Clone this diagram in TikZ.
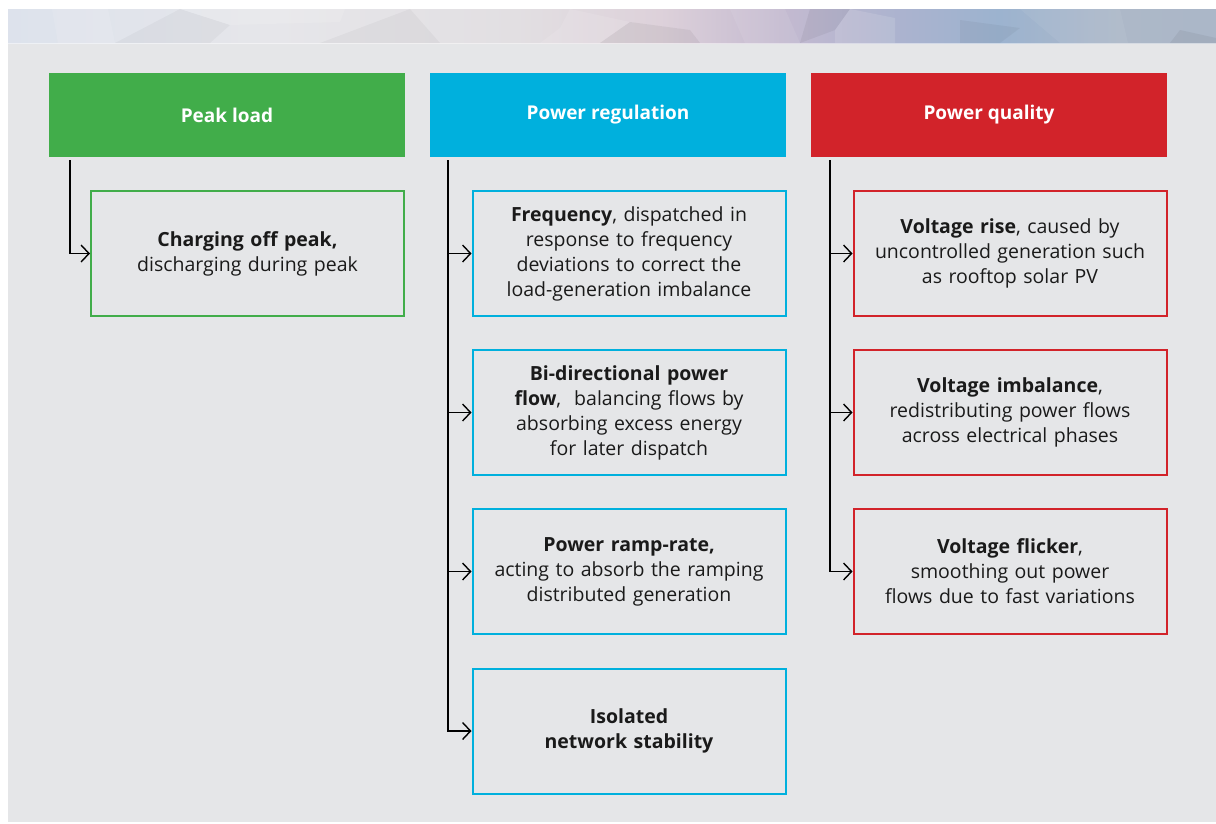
\documentclass[tikz,border=0pt]{standalone}
\usepackage{fontspec}
\setmainfont{Open Sans}
\usetikzlibrary{arrows.meta}
\definecolor{bgg}{HTML}{E5E6E8}
\definecolor{cgreen}{HTML}{41AD4A}
\definecolor{cblue}{HTML}{00B0DD}
\definecolor{cred}{HTML}{D2232A}
\definecolor{txt}{HTML}{1A1A1A}
\definecolor{b1}{HTML}{BCCDE3}
\definecolor{b2}{HTML}{C8D4E6}
\definecolor{b3}{HTML}{DCE2EC}
\definecolor{b4}{HTML}{E6E6EA}
\definecolor{b5}{HTML}{E2DFE2}
\definecolor{b6}{HTML}{DDD1DA}
\definecolor{b7}{HTML}{C4BAD0}
\definecolor{b8}{HTML}{ABB3CF}
\definecolor{b9}{HTML}{9CB3CF}
\definecolor{b10}{HTML}{ADB8C8}
\definecolor{b11}{HTML}{A9B6C8}
\definecolor{b12}{HTML}{8FA3B8}
\definecolor{b13}{HTML}{8797AD}
\pgfdeclarehorizontalshading{bandshade}{100bp}{color(0bp)=(b1); color(12bp)=(b2); color(24bp)=(b3); color(36bp)=(b4); color(46bp)=(b5); color(52bp)=(b6); color(57bp)=(b7); color(62bp)=(b8); color(66bp)=(b9); color(71bp)=(b10); color(78bp)=(b11); color(86bp)=(b12); color(100bp)=(b13)}
\tikzset{
  hdr/.style={fill=#1, minimum width=356pt, minimum height=84pt, inner sep=0pt,
    text=white, font=\fontsize{19}{22}\selectfont\bfseries},
  itembox/.style={draw=#1, line width=2pt, minimum width=313pt, minimum height=125pt,
    text width=308pt, align=center, inner sep=0pt, text=txt,
    font=\fontsize{19.5}{25}\selectfont},
  conn/.style={draw=black, line width=1.4pt,
    -{Straight Barb[length=8pt,width=17pt,line width=1.4pt]}}
}
\begin{document}
\begin{tikzpicture}[x=1pt,y=-1pt]
\useasboundingbox (0,0) rectangle (1216,823);
\fill[white] (0,0) rectangle (1216,823);
\fill[bgg] (8,9) rectangle (1216,822);
% top mosaic band
\shade[shading=bandshade] (8,9) rectangle (1216,43);
\begin{scope}
\clip (8,9) rectangle (1216,43);
\fill[white,opacity=0.10] (52,9) -- (108,9) -- (115,43) -- (58,43) -- cycle;
\fill[black,opacity=0.03] (180,9) -- (230,25) -- (210,43) -- (115,43) -- cycle;
\fill[white,opacity=0.12] (180,9) -- (345,9) -- (340,22) -- (230,25) -- cycle;
\fill[black,opacity=0.03] (410,9) -- (440,43) -- (320,43) -- cycle;
\fill[white,opacity=0.10] (570,9) -- (630,22) -- (600,43) -- (540,43) -- (560,28) -- cycle;
\fill[black,opacity=0.05] (630,22) -- (690,30) -- (700,43) -- (600,43) -- cycle;
\fill[white,opacity=0.08] (730,9) -- (785,9) -- (800,43) -- (745,43) -- cycle;
\fill[black,opacity=0.05] (810,9) -- (850,9) -- (835,30) -- (800,43) -- cycle;
\fill[white,opacity=0.12] (850,9) -- (895,18) -- (895,43) -- (835,43) -- (835,30) -- cycle;
\fill[black,opacity=0.04] (960,20) -- (1020,28) -- (1000,43) -- (960,43) -- cycle;
\fill[white,opacity=0.06] (1020,9) -- (1120,9) -- (1128,43) -- (1060,43) -- cycle;
\fill[black,opacity=0.05] (1180,30) -- (1216,38) -- (1216,43) -- (1170,43) -- cycle;
\end{scope}
\draw[white,opacity=0.5,line width=0.8pt] (8,43) -- (1216,43);

% headers
\node[hdr=cgreen] (hg) at (227,115) {Peak load};
\node[hdr=cblue]  (hb) at (608,115) {Power regulation};
\node[hdr=cred]   (hr) at (989,115) {Power quality};

% green column
\node[itembox=cgreen] (g1) at (247.5,253.5) {\textbf{Charging off peak,}\\discharging during peak};

% blue column
\node[itembox=cblue] (p1) at (629,253.5) {\textbf{Frequency}, dispatched in\\response to frequency\\deviations to correct the\\load-generation imbalance};
\node[itembox=cblue] (p2) at (629,412.5) {\textbf{Bi-directional power}\\\textbf{flow},\ \ balancing flows by\\absorbing excess energy\\for later dispatch};
\node[itembox=cblue] (p3) at (629,571.5) {\textbf{Power ramp-rate,}\\acting to absorb the ramping\\distributed generation};
\node[itembox=cblue] (p4) at (629,731) {\textbf{Isolated}\\\textbf{network stability}};

% red column
\node[itembox=cred] (q1) at (1010,253.5) {\textbf{Voltage rise}, caused by\\uncontrolled generation such\\as rooftop solar PV};
\node[itembox=cred] (q2) at (1010,412.5) {\textbf{Voltage imbalance},\\redistributing power flows\\across electrical phases};
\node[itembox=cred] (q3) at (1010,571.5) {\textbf{Voltage flicker},\\smoothing out power\\flows due to fast variations};

% connectors
\draw[conn] ([xshift=21pt,yshift=-3pt]hg.south west) |- (g1.west);
\foreach \b in {p1,p2,p3,p4}{
  \draw[conn] ([xshift=18pt,yshift=-3pt]hb.south west) |- (\b.west);
}
\foreach \b in {q1,q2,q3}{
  \draw[conn] ([xshift=19pt,yshift=-3pt]hr.south west) |- (\b.west);
}
\end{tikzpicture}
\end{document}
